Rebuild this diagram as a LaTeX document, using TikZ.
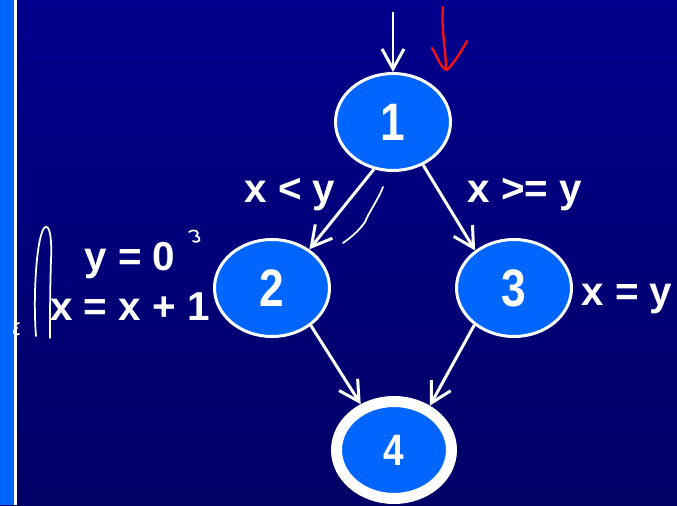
\documentclass[tikz,border=0pt]{standalone}
\usepackage{fontspec}
\setmainfont{Liberation Sans}
\newfontfamily\blocknarrow[FakeStretch=0.84]{Liberation Sans}
\usetikzlibrary{arrows.meta,shapes.geometric}
\definecolor{cfgnavy}{HTML}{00008C}
\definecolor{cfgdeep}{HTML}{000066}
\definecolor{cfgblue}{HTML}{0066FF}
\definecolor{cfgred}{HTML}{FF1010}

\begin{document}
\begin{tikzpicture}[x=0.02cm, y=-0.02cm, font=\bfseries, text=white,
    block/.style={ellipse, fill=cfgblue, draw=white, line width=0.06cm, inner sep=0pt,
      minimum width=2.3cm, minimum height=1.94cm, font=\blocknarrow\fontsize{30}{30}\selectfont\bfseries},
    exitblock/.style={block, line width=0.22cm, font=\blocknarrow\fontsize{25}{25}\selectfont\bfseries},
    conn/.style={draw=white, line width=1.7pt, -{Straight Barb[length=4mm, width=4.4mm]}},
    cond/.style={inner sep=0pt, anchor=base, font=\fontsize{23}{28}\selectfont\bfseries},
    scrib/.style={draw=white, line width=1pt, line cap=round, line join=round},
    scribred/.style={draw=cfgred, line width=1.3pt, line cap=round, line join=round},
  ]
  % slide background, fixes the page size too
  \useasboundingbox (0,0) rectangle (677,505);
  \shade[top color=cfgnavy, bottom color=cfgdeep] (0,0) rectangle (677,505);
  \fill[cfgblue] (0,0) rectangle (14,505);
  \fill[white] (14,0) rectangle (16.7,505);

  % basic blocks
  \node[block] (n1) at (393,122) {1};
  \node[block] (n2) at (272,288) {2};
  \node[block] (n3) at (514,288) {3};
  \node[exitblock] (n4) at (394,450) {4};

  % control flow
  \coordinate (entry) at (393,12);
  \draw[conn] (entry) -- (n1.north);
  \draw[conn] (n1.248) -- (n2.46);
  \draw[conn] (n1.305) -- (n3.136);
  \draw[conn] (n2.316) -- (n4.126);
  \draw[conn] (n3.223) -- (n4.51);

  % branch conditions and statements
  \node[cond] (c12) at (290,202) {x < y};
  \node[cond] (c13) at (525,202) {x >= y};
  \node[cond] (s2a) at (130,270) {y = 0};
  \node[cond] (s2b) at (130,320) {x = x + 1};
  \node[cond, anchor=base west] (s3) at (581,305) {x = y};

  % pen marks on the slide
  \draw[scribred] (443,7) .. controls (441,30) and (446,50) .. (446,69);
  \draw[scribred] (432,48) .. controls (437,55) and (440,68) .. (447,70)
    .. controls (455,62) and (462,50) .. (467,41);
  \draw[scrib] (36,336) .. controls (33,300) and (36,240) .. (44,228)
    .. controls (50,222) and (52,240) .. (51,260) .. controls (50,290) and (50,320) .. (50,338);
  \draw[scrib] (19,323) .. controls (13,324) and (14,328) .. (17,328)
    .. controls (12,330) and (13,336) .. (19,334);
  \draw[scrib] (189,232) .. controls (195,228) and (201,232) .. (196,236)
    .. controls (203,238) and (199,244) .. (193,241);
  \draw[scrib] (383,187) .. controls (378,200) and (370,210) .. (365,222)
    .. controls (358,232) and (350,238) .. (343,243);
\end{tikzpicture}
\end{document}
